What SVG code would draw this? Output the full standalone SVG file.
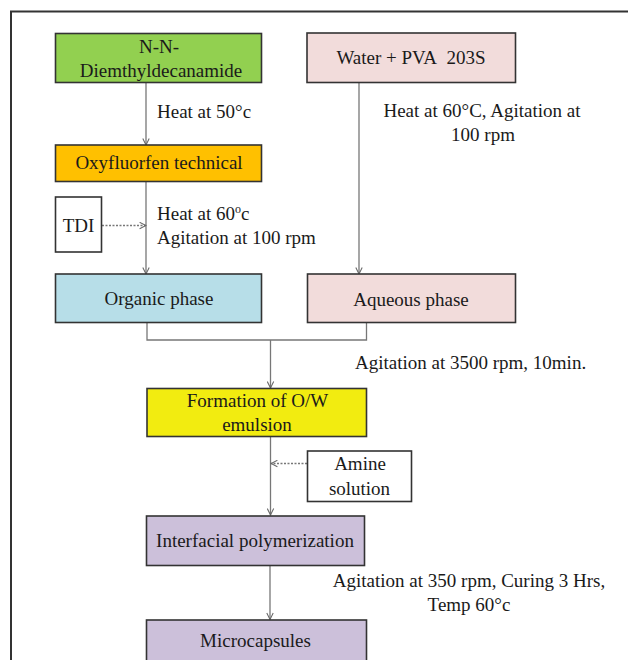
<svg xmlns="http://www.w3.org/2000/svg" width="628" height="660" viewBox="0 0 628 660">
<defs>
<style>
.box{stroke:#333;stroke-width:1.6}
.t{font-family:"Liberation Serif","Times New Roman",serif;font-size:19px;fill:#1a1a1a}
.c{text-anchor:middle}
.ln{stroke:#777;stroke-width:1.3;fill:none}
.dot{stroke:#777;stroke-width:1.3;fill:none;stroke-dasharray:2 1.5}
</style>
<marker id="ah" viewBox="0 0 10 10" refX="9" refY="5" markerWidth="8" markerHeight="8" markerUnits="userSpaceOnUse" orient="auto">
<polyline points="1,1 9,5 1,9" fill="none" stroke="#666" stroke-width="1.3"/>
</marker>
</defs>
<rect width="628" height="660" fill="#fff"/>
<path d="M11,670 V11.5 H640" fill="none" stroke="#333" stroke-width="2"/>

<g id="connectors">
<line class="ln" x1="146" y1="83" x2="146" y2="145" marker-end="url(#ah)"/>
<line class="ln" x1="146" y1="182" x2="146" y2="274" marker-end="url(#ah)"/>
<line class="dot" x1="102" y1="225.5" x2="146" y2="225.5" marker-end="url(#ah)"/>
<line class="ln" x1="359" y1="83" x2="359" y2="274" marker-end="url(#ah)"/>
<polyline class="ln" points="147,323 147,340 366.5,340 366.5,323"/>
<line class="ln" x1="270.5" y1="340" x2="270.5" y2="388" marker-end="url(#ah)"/>
<line class="ln" x1="270.5" y1="437" x2="270.5" y2="515" marker-end="url(#ah)"/>
<line class="dot" x1="307" y1="463.5" x2="271" y2="463.5" marker-end="url(#ah)"/>
<line class="ln" x1="270" y1="566" x2="270" y2="619.5" marker-end="url(#ah)"/>
</g>

<g id="n1">
<rect class="box" x="55.5" y="33.5" width="206" height="49" fill="#92D050"/>
<text class="t c" x="159" y="53">N-N-</text>
<text class="t c" x="161" y="77">Diemthyldecanamide</text>
</g>
<g id="n2">
<rect class="box" x="307" y="33" width="208.5" height="49.5" fill="#F2DCDB"/>
<text class="t c" x="411" y="63.5">Water + PVA&#160; 203S</text>
</g>
<g id="lbl1">
<text class="t" x="157" y="118">Heat at 50°c</text>
</g>
<g id="lbl2">
<text class="t c" x="482" y="117">Heat at 60°C, Agitation at</text>
<text class="t c" x="483" y="141">100 rpm</text>
</g>
<g id="n3">
<rect class="box" x="55.5" y="145" width="206" height="36.5" fill="#FFC000"/>
<text class="t c" x="159" y="169">Oxyfluorfen technical</text>
</g>
<g id="n4">
<rect class="box" x="55.5" y="197" width="46" height="55" fill="#fff"/>
<text class="t c" x="78.5" y="232">TDI</text>
</g>
<g id="lbl3">
<text class="t" x="157" y="220">Heat at 60<tspan font-size="12" dy="-7">o</tspan><tspan dy="7">c</tspan></text>
<text class="t" x="157" y="244">Agitation at 100 rpm</text>
</g>
<g id="n5">
<rect class="box" x="55.5" y="274" width="206" height="48.5" fill="#B7DEE8"/>
<text class="t c" x="159" y="305">Organic phase</text>
</g>
<g id="n6">
<rect class="box" x="307.5" y="274" width="208" height="48.5" fill="#F2DCDB"/>
<text class="t c" x="411" y="305.5">Aqueous phase</text>
</g>
<g id="lbl4">
<text class="t" x="355" y="369">Agitation at 3500 rpm, 10min.</text>
</g>
<g id="n7">
<rect class="box" x="147" y="388.5" width="219.5" height="48" fill="#F2EC10"/>
<text class="t c" x="257.5" y="407">Formation of O/W</text>
<text class="t c" x="257" y="431">emulsion</text>
</g>
<g id="n8">
<rect class="box" x="307.5" y="451" width="104" height="50.5" fill="#fff"/>
<text class="t c" x="360" y="470">Amine</text>
<text class="t c" x="359.5" y="495">solution</text>
</g>
<g id="n9">
<rect class="box" x="146.5" y="516" width="218" height="49.5" fill="#CCC0DA"/>
<text class="t c" x="255" y="547">Interfacial polymerization</text>
</g>
<g id="lbl5">
<text class="t c" x="469" y="587">Agitation at 350 rpm, Curing 3 Hrs,</text>
<text class="t c" x="469" y="611">Temp 60°c</text>
</g>
<g id="n10">
<rect class="box" x="146.5" y="620" width="220" height="60" fill="#CCC0DA"/>
<text class="t c" x="255.5" y="647">Microcapsules</text>
</g>
</svg>
